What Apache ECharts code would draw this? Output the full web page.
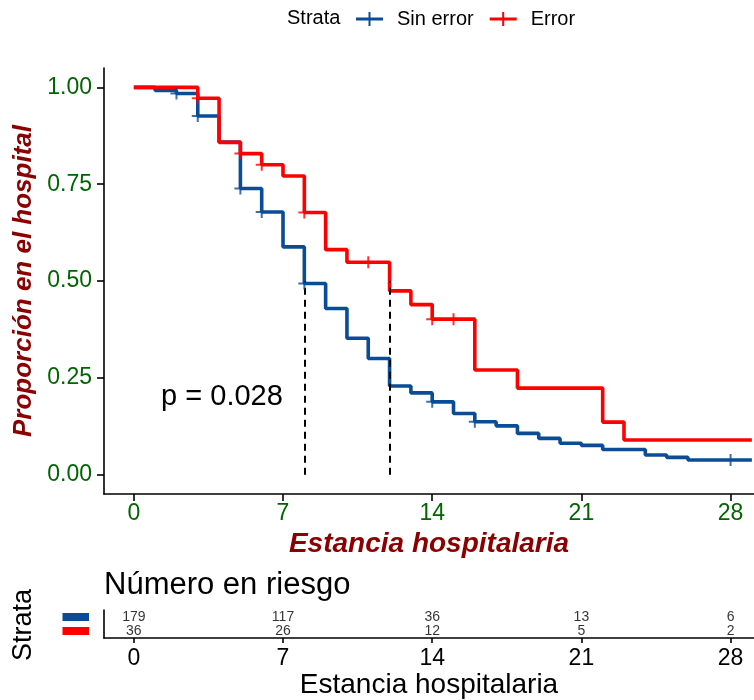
<!DOCTYPE html>
<html><head><meta charset="utf-8">
<script src="https://cdn.jsdelivr.net/npm/echarts@6/dist/echarts.min.js"></script>
<style>html,body{margin:0;padding:0;background:#fff}#c{width:754px;height:700px}</style>
</head><body><div id="c"></div>
<script>
// ---- data ----
const sinErrorTimes = [0, 1, 2, 3, 4, 5, 6, 7, 8, 9, 10, 11, 12, 13, 14, 15, 16, 17, 18, 19, 20, 21, 22, 24, 25, 26, 29];
const sinErrorSurv  = [1, 0.992, 0.984, 0.926, 0.859, 0.739, 0.678, 0.588, 0.4935, 0.429, 0.352, 0.300, 0.229, 0.211, 0.188, 0.158, 0.1365, 0.126, 0.1065, 0.0936, 0.081, 0.0755, 0.065, 0.0506, 0.0446, 0.0377, 0.0377];
const sinErrorCensorTimes = [2, 3, 5, 6, 8, 14, 16, 28];
const errorTimes = [0, 3, 4, 5, 6, 7, 8, 9, 10, 12, 13, 14, 16, 18, 22, 23, 29];
const errorSurv  = [1, 0.972, 0.858, 0.829, 0.800, 0.771, 0.677, 0.581, 0.5485, 0.4745, 0.439, 0.4015, 0.270, 0.2234, 0.1357, 0.0893, 0.0893];
const errorCensorTimes = [3, 5, 6, 8, 11, 14, 15];
const medianTimes = [8, 12];
const medianLevel = 0.5;
const xTicks = [0, 7, 14, 21, 28];
const yTicks = [0, 0.25, 0.5, 0.75, 1];
const riskSinError = [179, 117, 36, 13, 6];
const riskError = [36, 26, 12, 5, 2];
const strataNames = ['Sin error', 'Error'];
const pValueText = 'p = 0.028';
const pValueCoord = [1.28, 0.2];

// ---- styling ----
const FONT = "'Liberation Sans', Arial, sans-serif";
const BLUE = '#0B4C97';
const RED = '#FF0000';
const GREEN = '#006400';
const DARKRED = '#8B0000';
const plusSym = 'path://M5,0H7V5H12V7H7V12H5V7H0V5H5Z';
const legendIcon = 'path://M0,5.5H12.5V0H14.5V5.5H27V8.5H14.5V14H12.5V8.5H0Z';

function survAt(times, surv, t) {
  let s = surv[0];
  for (let i = 0; i < times.length; i++) if (times[i] <= t) s = surv[i];
  return s;
}
const zip = (a, b) => a.map((v, i) => [v, b[i]]);

const xMin = -1.4, xMax = 29.1;

const option = {
  animation: false,
  backgroundColor: '#fff',
  color: [BLUE, RED],
  legend: {
    top: 9, left: 356, padding: 0, itemWidth: 27, itemHeight: 14, itemGap: 16,
    selectedMode: false,
    textStyle: { fontSize: 20, fontFamily: FONT, color: '#000', padding: [0, 0, 0, 9] },
    data: [{ name: strataNames[0], icon: legendIcon }, { name: strataNames[1], icon: legendIcon }]
  },
  grid: [
    { left: 104, right: 0, top: 68, bottom: 206 },
    { left: 104, right: 0, top: 610, height: 29 }
  ],
  xAxis: [
    {
      gridIndex: 0, type: 'value', min: xMin, max: xMax,
      name: 'Estancia hospitalaria', nameLocation: 'middle', nameGap: 30,
      nameTextStyle: { fontSize: 28, fontWeight: 'bold', fontStyle: 'italic', color: DARKRED, fontFamily: FONT },
      axisLine: { show: true, onZero: false, lineStyle: { color: '#000', width: 1.6 } },
      axisTick: { show: true, customValues: xTicks, length: 7, lineStyle: { color: '#000', width: 1.6 } },
      axisLabel: { customValues: xTicks, color: GREEN, fontSize: 23, fontFamily: FONT, margin: 8 },
      splitLine: { show: false }
    },
    {
      gridIndex: 1, type: 'value', min: xMin, max: xMax,
      name: 'Estancia hospitalaria', nameLocation: 'middle', nameGap: 33,
      nameTextStyle: { fontSize: 28, color: '#000', fontFamily: FONT },
      axisLine: { show: true, onZero: false, lineStyle: { color: '#000', width: 1.6 } },
      axisTick: { show: true, customValues: xTicks, length: 5, lineStyle: { color: '#000', width: 1.6 } },
      axisLabel: { customValues: xTicks, color: '#000', fontSize: 23, fontFamily: FONT, margin: 9 },
      splitLine: { show: false }
    }
  ],
  yAxis: [
    {
      gridIndex: 0, type: 'value', min: -0.05, max: 1.05,
      name: 'Proporción en el hospital', nameLocation: 'middle', nameGap: 67,
      nameTextStyle: { fontSize: 26, fontWeight: 'bold', fontStyle: 'italic', color: DARKRED, fontFamily: FONT },
      axisLine: { show: true, onZero: false, lineStyle: { color: '#000', width: 1.6 } },
      axisTick: { show: true, customValues: yTicks, length: 7, lineStyle: { color: '#000', width: 1.6 } },
      axisLabel: { customValues: yTicks, color: GREEN, fontSize: 23, fontFamily: FONT, margin: 12,
        formatter: v => Number(v).toFixed(2) },
      splitLine: { show: false }
    },
    {
      gridIndex: 1, type: 'category', data: [strataNames[1], strataNames[0]],
      axisLine: { show: true, onZero: false, lineStyle: { color: '#000', width: 1.6 } },
      axisTick: { show: false }, axisLabel: { show: false }, splitLine: { show: false }
    }
  ],
  series: [
    {
      name: strataNames[0], type: 'line', step: 'end', xAxisIndex: 0, yAxisIndex: 0,
      data: zip(sinErrorTimes, sinErrorSurv), showSymbol: false, symbol: 'none',
      itemStyle: { color: BLUE }, lineStyle: { color: BLUE, width: 3.6 }, z: 3,
      markLine: {
        silent: true, symbol: ['none', 'none'], label: { show: false },
        lineStyle: { color: '#000', width: 2, type: [7, 5] },
        data: medianTimes.map(t => [{ coord: [t, 0] }, { coord: [t, medianLevel] }])
      }
    },
    {
      name: strataNames[1], type: 'line', step: 'end', xAxisIndex: 0, yAxisIndex: 0,
      data: zip(errorTimes, errorSurv), showSymbol: false, symbol: 'none',
      itemStyle: { color: RED }, lineStyle: { color: RED, width: 3.6 }, z: 4
    },
    {
      name: 'censor-sin', type: 'scatter', xAxisIndex: 0, yAxisIndex: 0,
      symbol: plusSym, symbolSize: 12, itemStyle: { color: BLUE }, z: 5,
      data: sinErrorCensorTimes.map(t => [t, survAt(sinErrorTimes, sinErrorSurv, t)])
    },
    {
      name: 'censor-err', type: 'scatter', xAxisIndex: 0, yAxisIndex: 0,
      symbol: plusSym, symbolSize: 12, itemStyle: { color: RED }, z: 6,
      data: errorCensorTimes.map(t => [t, survAt(errorTimes, errorSurv, t)])
    },
    {
      name: 'risk-sin', type: 'scatter', xAxisIndex: 1, yAxisIndex: 1, symbolSize: 1,
      itemStyle: { color: 'transparent' },
      label: { show: true, position: 'inside', formatter: p => p.value[2], fontSize: 14, color: '#000', fontFamily: FONT },
      data: xTicks.map((t, i) => [t, strataNames[0], riskSinError[i]])
    },
    {
      name: 'risk-err', type: 'scatter', xAxisIndex: 1, yAxisIndex: 1, symbolSize: 1,
      itemStyle: { color: 'transparent' },
      label: { show: true, position: 'inside', formatter: p => p.value[2], fontSize: 14, color: '#000', fontFamily: FONT },
      data: xTicks.map((t, i) => [t, strataNames[1], riskError[i]])
    }
  ]
};

const chart = echarts.init(document.getElementById('c'), null, { renderer: 'canvas' });
chart.setOption(option);

const pPix = chart.convertToPixel({ gridIndex: 0 }, pValueCoord);
const rowSin = chart.convertToPixel({ gridIndex: 1 }, [0, strataNames[0]]);
const rowErr = chart.convertToPixel({ gridIndex: 1 }, [0, strataNames[1]]);

chart.setOption({
  graphic: [
    { type: 'text', left: 287, top: 8, style: { text: 'Strata', fontSize: 20, fontFamily: FONT, fill: '#000' } },
    { type: 'text', x: pPix[0], y: pPix[1], style: { text: pValueText, fontSize: 29, fontFamily: FONT, fill: '#000', textAlign: 'left', textVerticalAlign: 'middle' } },
    { type: 'text', x: 104, y: 585, style: { text: 'Número en riesgo', fontSize: 31, fontFamily: FONT, fill: '#000', textAlign: 'left', textVerticalAlign: 'middle' } },
    { type: 'text', x: 24, y: 625, rotation: Math.PI / 2, style: { text: 'Strata', fontSize: 27, fontFamily: FONT, fill: '#000', textAlign: 'center', textVerticalAlign: 'middle' } },
    { type: 'rect', shape: { x: 62.5, y: rowSin[1] - 4, width: 26.5, height: 8 }, style: { fill: BLUE } },
    { type: 'rect', shape: { x: 62.5, y: rowErr[1] - 4, width: 26.5, height: 8 }, style: { fill: RED } }
  ]
});
</script>
</body></html>
